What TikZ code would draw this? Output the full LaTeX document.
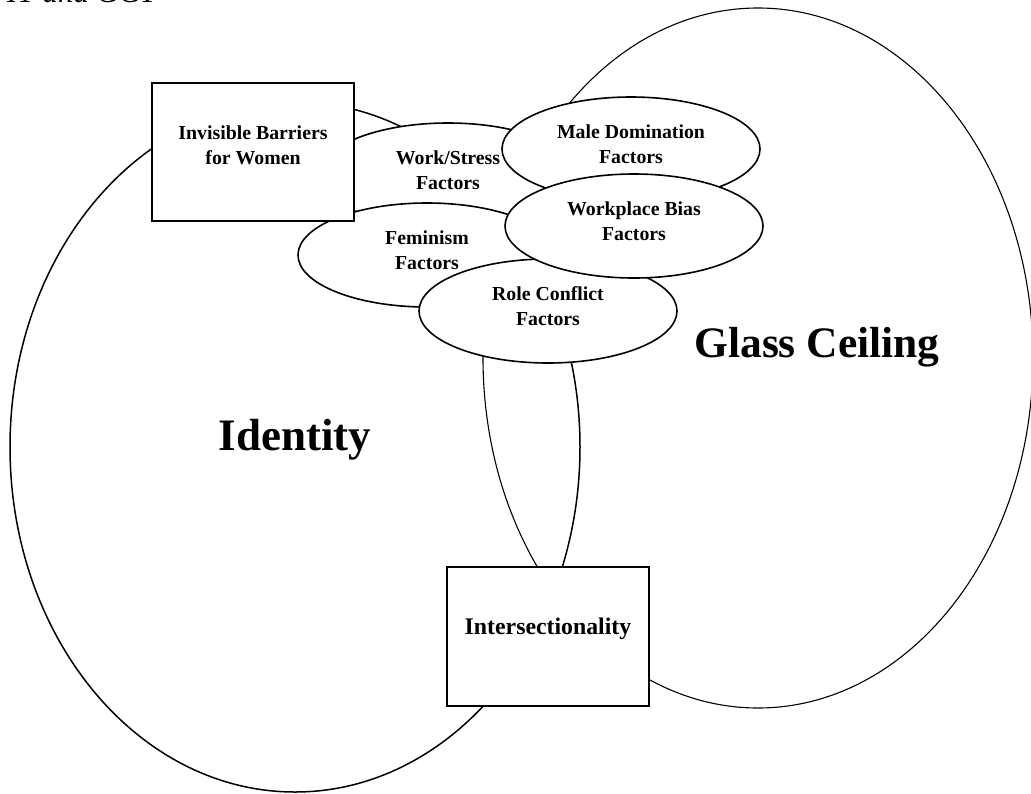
\documentclass[tikz,border=0pt]{standalone}
\usepackage{fontspec}
\setmainfont{Liberation Serif}
\usetikzlibrary{
  positioning,
  shapes.geometric
}

\begin{document}
\begin{tikzpicture}[
      x=1pt, y=-1pt,
      dominio/.style={draw, ellipse, line width=1.5pt},
      fator/.style={draw, fill=white, ellipse, line width=1.6pt,
                    minimum width=258pt, minimum height=104pt, inner sep=0pt},
      caixa/.style={draw, fill=white, rectangle, line width=1.7pt,
                    minimum width=202pt, minimum height=138pt, inner sep=0pt},
      rotulo/.style={align=center, font=\bfseries\fontsize{19.8}{25}\selectfont, yshift=5pt},
      titulo/.style={anchor=base, font=\bfseries\fontsize{45}{54}\selectfont}
  ]
      \useasboundingbox (0,0) rectangle (1031,793);

      % Cabeçalho cortado no topo
      \node[anchor=base west, inner sep=0pt, font=\itshape\fontsize{31}{36}\selectfont] (cabec) at (7,2) {IT and GCT};

      % Grandes domínios
      \node[dominio, minimum width=570pt, minimum height=690pt] (ident) at (295,447) {};
      \node[dominio, line width=1.1pt, minimum width=550pt, minimum height=700pt] (teto) at (758,358) {};

      % Fatores (ordem de sobreposição)
      \node[fator, label={[rotulo]center:{Work/Stress\\Factors}}]     (trab)  at (448,175) {};
      \node[fator, label={[rotulo]center:{Feminism\\Factors}}]        (femin) at (427,255) {};
      \node[fator, label={[rotulo]center:{Male Domination\\Factors}}] (masc)  at (631,149) {};
      \node[fator, label={[rotulo]center:{Role Conflict\\Factors}}]   (papel) at (548,311) {};
      \node[fator, label={[rotulo]center:{Workplace Bias\\Factors}}]  (vies)  at (634,226) {};

      % Caixas
      \node[caixa, label={[rotulo, yshift=2pt]center:{Invisible Barriers\\for Women}}] (barr) at (253,152) {};
      \node[caixa, minimum height=139pt,
            label={[rotulo, yshift=2.5pt, font=\bfseries\fontsize{23.8}{28}\selectfont]center:{Intersectionality}}] (inter) at (548,636.5) {};

      % Títulos dos domínios
      \node[titulo] (identlbl) at (295,450) {Identity};
      \node[titulo, font=\bfseries\fontsize{43.5}{52}\selectfont] (tetolbl) at (817,357) {Glass Ceiling};
  \end{tikzpicture}
\end{document}
